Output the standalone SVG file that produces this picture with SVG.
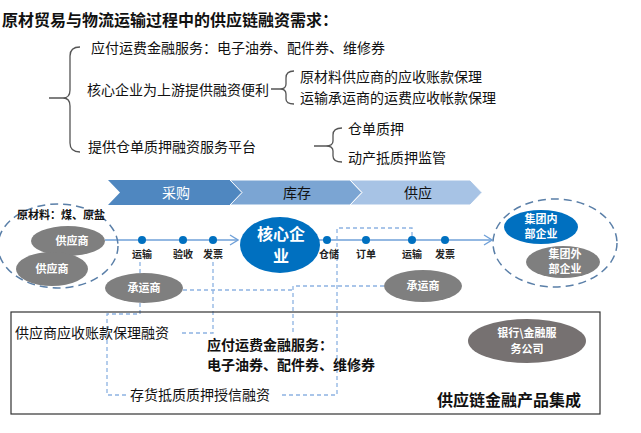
<svg xmlns="http://www.w3.org/2000/svg" width="641" height="433" viewBox="0 0 641 433">
<style>
text{font-family:"Noto Sans CJK SC","Liberation Sans",sans-serif;fill:#111;}
.t14{font-size:14px;}
.b{font-weight:bold;}
.w{fill:#fff;}
.lbl{font-size:10px;font-weight:bold;fill:#222;text-anchor:middle;}
.brace{fill:none;stroke:#555;stroke-width:1.3;}
.dash{fill:none;stroke:#8db3e2;stroke-width:1.3;stroke-dasharray:4,3;}
.oval{fill:none;stroke:#5a7fa8;stroke-width:1.5;stroke-dasharray:8,5;}
.gray{fill:#7f7f7f;}
.flow{stroke:#6fa0d8;stroke-width:1.5;fill:none;}
.dot{fill:#0070c0;}
</style>
<defs>
<marker id="arr" markerWidth="10" markerHeight="12" refX="9" refY="6" orient="auto" markerUnits="userSpaceOnUse">
<path d="M1,1 L9,6 L1,11" fill="none" stroke="#6fa0d8" stroke-width="1.3"/>
</marker>
</defs>
<rect width="641" height="433" fill="#fff"/>

<g id="title">
<text x="2" y="26" class="b" font-size="16">原材贸易与物流运输过程中的供应链融资需求：</text>
</g>

<g id="tree">
<path class="brace" d="M80,47 Q70,47 70,56 L70,90 Q70,98 63,98 L49,98 M63,98 Q70,98 70,106 L70,143 Q70,152 80,152"/>
<text x="91" y="53" class="t14">应付运费金融服务：电子油券、配件券、维修券</text>
<text x="87" y="95" class="t14">核心企业为上游提供融资便利</text>
<path class="brace" d="M294,71 Q286,71 286,78 L286,84 Q286,89 280,89 L271,89 M280,89 Q286,89 286,94 L286,99 Q286,104 294,104"/>
<text x="300" y="82" class="t14">原材料供应商的应收账款保理</text>
<text x="300" y="103" class="t14">运输承运商的运费应收帐款保理</text>
<text x="88" y="152" class="t14">提供仓单质押融资服务平台</text>
<path class="brace" d="M342,128 Q333,128 333,135 L333,141 Q333,146 326,146 L314,146 M326,146 Q333,146 333,151 L333,156 Q333,162 342,162"/>
<text x="348" y="134" class="t14">仓单质押</text>
<text x="348" y="163" class="t14">动产抵质押监管</text>
</g>

<g id="banner">
<path d="M108,180 L230,180 L242,192.5 L230,205 L108,205 L120,192.5 Z" fill="#4f87c0"/>
<path d="M230,180 L350,180 L362,192.5 L350,205 L230,205 L242,192.5 Z" fill="#7ba5d3" stroke="#fff" stroke-width="1"/>
<path d="M350,180 L470,180 L482,192.5 L470,205 L350,205 L362,192.5 Z" fill="#a7c3e5" stroke="#fff" stroke-width="1"/>
<text x="176" y="197.5" class="t14 w" text-anchor="middle">采购</text>
<text x="297" y="197.5" class="t14" text-anchor="middle">库存</text>
<text x="418" y="197.5" class="t14" text-anchor="middle">供应</text>
</g>

<g id="connectors">
<line class="flow" x1="105" y1="240" x2="238" y2="240" marker-end="url(#arr)"/>
<line class="flow" x1="318" y1="240" x2="492" y2="240" marker-end="url(#arr)"/>
<path class="dash" d="M140,262 L140,273"/>
<path class="dash" d="M140,303 L140,314 L107,314 L107,395 L127,395"/>
<path class="dash" d="M282,395 L337,395 L337,228 L412,228 L412,240"/>
<path class="dash" d="M213,262 L213,333 L180,333"/>
<path class="dash" d="M183,290 L293,290"/>
<path class="dash" d="M384,286 L293,286 L293,333"/>
</g>

<g id="supplier-group">
<ellipse class="oval" cx="58" cy="246" rx="60" ry="42"/>
<text x="17" y="219" font-size="11" class="b">原材料：煤、原盐</text>
<ellipse class="gray" cx="68" cy="241" rx="37" ry="15"/>
<text x="72" y="245" font-size="11" class="b w" text-anchor="middle">供应商</text>
<ellipse class="gray" cx="52" cy="269" rx="36" ry="17"/>
<text x="52" y="273" font-size="11" class="b w" text-anchor="middle">供应商</text>
</g>

<g id="steps">
<circle class="dot" cx="142" cy="240" r="4"/>
<circle class="dot" cx="183" cy="240" r="4"/>
<circle class="dot" cx="213" cy="240" r="4"/>
<circle class="dot" cx="327" cy="240" r="4"/>
<circle class="dot" cx="366" cy="240" r="4"/>
<circle class="dot" cx="412" cy="240" r="4"/>
<circle class="dot" cx="445" cy="240" r="4"/>
<text x="142" y="258" class="lbl">运输</text>
<text x="183" y="258" class="lbl">验收</text>
<text x="213" y="258" class="lbl">发票</text>
<text x="329" y="258" class="lbl">仓储</text>
<text x="366" y="258" class="lbl">订单</text>
<text x="412" y="258" class="lbl">运输</text>
<text x="445" y="258" class="lbl">发票</text>
</g>

<g id="core">
<ellipse cx="280" cy="245" rx="40" ry="28" fill="#0070c0"/>
<text font-size="16" class="b w" text-anchor="middle"><tspan x="281" y="240">核心企</tspan><tspan x="281" y="262">业</tspan></text>
</g>

<g id="carrier-left">
<ellipse class="gray" cx="144" cy="288" rx="39" ry="15"/>
<text x="144" y="292" font-size="11" class="b w" text-anchor="middle">承运商</text>
</g>
<g id="carrier-right">
<ellipse class="gray" cx="423" cy="286" rx="39" ry="16"/>
<text x="423" y="290" font-size="11" class="b w" text-anchor="middle">承运商</text>
</g>

<g id="customer-group">
<ellipse class="oval" cx="555" cy="243" rx="62" ry="44"/>
<ellipse cx="541" cy="227" rx="37" ry="17" fill="#0070c0"/>
<text font-size="11" class="b w" text-anchor="middle"><tspan x="541" y="223">集团内</tspan><tspan x="541" y="238">部企业</tspan></text>
<ellipse class="gray" cx="563" cy="262" rx="37" ry="16"/>
<text font-size="11" class="b w" text-anchor="middle"><tspan x="565" y="258">集团外</tspan><tspan x="565" y="273">部企业</tspan></text>
</g>

<g id="product-box">
<rect x="11" y="312" width="589" height="102" fill="none" stroke="#333" stroke-width="1.2"/>
<text x="15" y="338" class="t14">供应商应收账款保理融资</text>
<text class="t14 b"><tspan x="207" y="350">应付运费金融服务：</tspan><tspan x="207" y="370">电子油券、配件券、维修券</tspan></text>
<text x="130" y="400" class="t14">存货抵质质押授信融资</text>
<text x="437" y="406" font-size="16" class="b">供应链金融产品集成</text>
</g>

<g id="bank">
<ellipse cx="527" cy="341" rx="59" ry="22" fill="#767171"/>
<text font-size="11" class="b w" text-anchor="middle"><tspan x="527" y="337">银行\金融服</tspan><tspan x="527" y="353">务公司</tspan></text>
</g>
</svg>
